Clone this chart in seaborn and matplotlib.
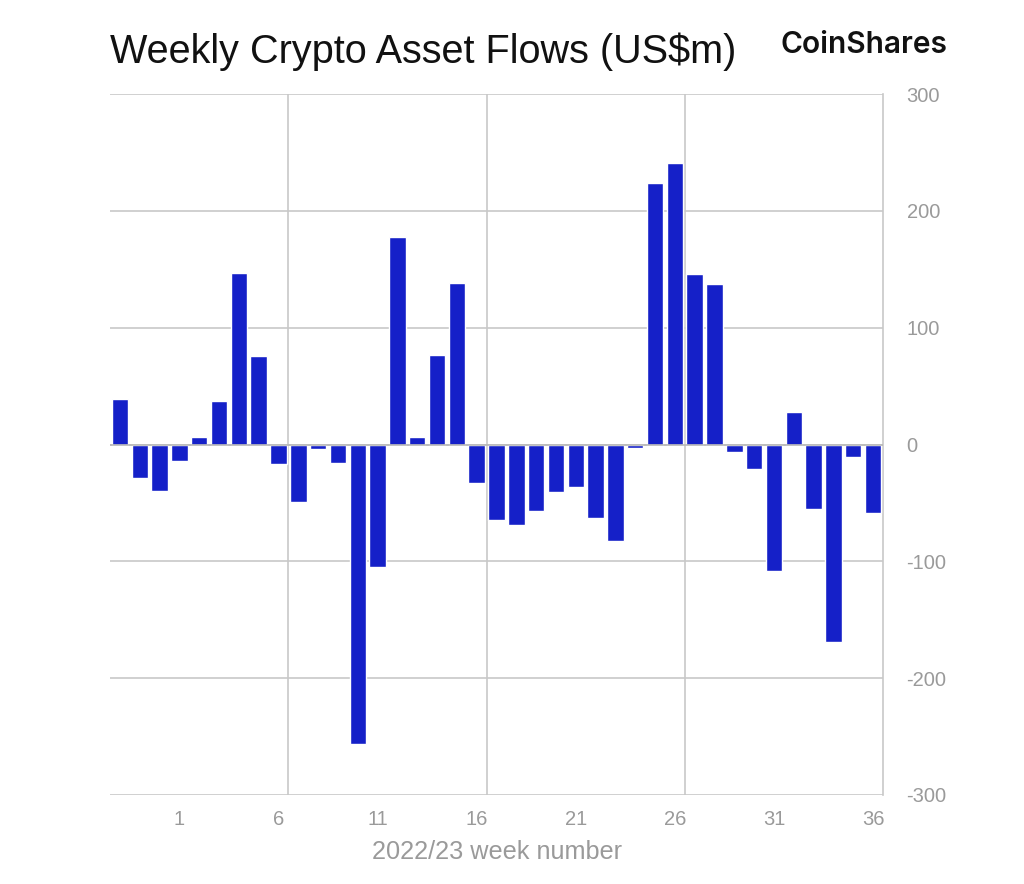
import pandas as pd
import seaborn as sns
import matplotlib.pyplot as plt

# weekly flows, 2022 weeks 50-52 then 2023 weeks 1-36
weeks = ["50", "51", "52"] + [str(w) for w in range(1, 37)]
flows = [39, -29, -40, -14, 6, 37, 147, 76, -17, -49,
         -4, -16, -256, -105, 178, 6, 77, 138, -33, -65,
         -69, -57, -41, -36, -63, -83, -3, 224, 241, 146,
         137, -6, -21, -108, 28, -55, -169, -11, -59]
tick_weeks = ["1", "6", "11", "16", "21", "26", "31", "36"]
y_ticks = [-300, -200, -100, 0, 100, 200, 300]

df = pd.DataFrame({"week": weeks, "flow": flows})

sns.set_style("white")
plt.rcParams["font.family"] = ["Liberation Sans", "DejaVu Sans"]

grid_col = "#c8c8c8"
text_col = "#9a9a9a"

fig = plt.figure(figsize=(10.24, 8.84), dpi=100)
ax = fig.add_axes([110 / 1024, 1 - 795 / 884, 773 / 1024, 701 / 884])

sns.barplot(data=df, x="week", y="flow", order=weeks, color="#1520c8",
            saturation=1, width=0.83, ax=ax, zorder=3)

ax.set_xlim(-0.5, len(weeks) - 0.5)
ax.set_ylim(-300, 300)

ax.yaxis.tick_right()
ax.set_yticks(y_ticks)
ax.set_yticklabels([str(v) for v in y_ticks])
ax.yaxis.grid(True, color=grid_col, linewidth=1.2, zorder=0)
ax.set_axisbelow(True)

tick_pos = [weeks.index(w, 3) for w in tick_weeks]
ax.set_xticks(tick_pos)
ax.set_xticklabels(tick_weeks)
for i in [8.5, 18.5, 28.5]:
    ax.axvline(i, color=grid_col, linewidth=1.2, zorder=0)
ax.axhline(0, color="#b8b8b8", linewidth=1.2, zorder=4)

for s in ["top", "left", "bottom"]:
    ax.spines[s].set_visible(False)
ax.spines["right"].set_color(grid_col)
ax.spines["right"].set_linewidth(1.2)

ax.tick_params(axis="both", length=0, labelsize=14.5, labelcolor=text_col)
ax.tick_params(axis="y", pad=17)
ax.tick_params(axis="x", pad=11)

ax.set_ylabel("")
ax.set_xlabel("2022/23 week number", fontsize=18.2, color=text_col, labelpad=8)

fig.text(110 / 1024, 1 - 63 / 884, "Weekly Crypto Asset Flows (US$m)",
         fontsize=28.5, color="#111111", va="baseline", ha="left")
fig.text(948 / 1024, 1 - 53 / 884, "CoinShares", fontsize=21.5,
         fontweight="semibold", family=["Inter", "DejaVu Sans"],
         color="#111111", va="baseline", ha="right")

plt.savefig("out.png", dpi=100)
plt.close()
